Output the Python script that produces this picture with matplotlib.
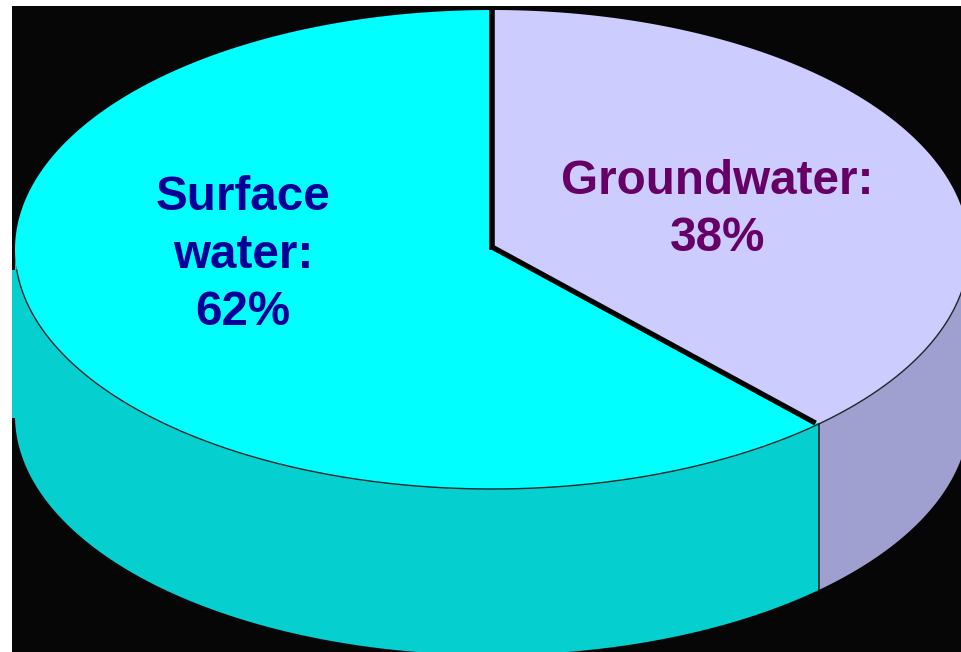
import numpy as np
import matplotlib.pyplot as plt
from matplotlib.patches import Rectangle

labels = ["Groundwater:\n38%", "Surface\nwater:\n62%"]
shares = [38, 62]
top_colors = ["#CCCCFF", "#00FFFF"]
side_colors = ["#A0A0D0", "#05CFCF"]
text_colors = ["#660066", "#000099"]
label_pos = [(717.5, 210), (243, 255)]

# pie geometry in pixels
cx, cy = 492, 249.5
rx, ry = 477, 239.5
depth = 166


def rim(a):
    # a is measured clockwise from 12 o'clock
    return cx + rx * np.sin(a), cy - ry * np.cos(a)


fig = plt.figure(figsize=(9.61, 6.52), dpi=100, facecolor="white")
ax = fig.add_axes([0, 0, 1, 1])
ax.set_xlim(0, 961)
ax.set_ylim(652, 0)
ax.axis("off")

bg = Rectangle((12, 6), 949, 646, facecolor="#060606", edgecolor="none", zorder=0)
ax.add_patch(bg)

edges = np.cumsum([0] + shares) / sum(shares) * 2 * np.pi

for i in range(len(shares)):
    a = np.linspace(edges[i], edges[i + 1], 300)
    x, y = rim(a)

    # side wall, only the front half of the rim shows
    front = np.cos(a) <= 0
    sx, sy = x[front], y[front]
    wall = ax.fill(np.r_[sx, sx[::-1]], np.r_[sy, sy[::-1] + depth],
                   color=side_colors[i], lw=0, zorder=1)
    wall[0].set_clip_path(bg)

    top = ax.fill(np.r_[cx, x], np.r_[cy, y], color=top_colors[i], lw=0, zorder=2)
    top[0].set_clip_path(bg)

    ax.text(label_pos[i][0], label_pos[i][1], labels[i], color=text_colors[i],
            family="Liberation Sans", fontweight="bold", fontsize=34.3,
            ha="center", va="center", linespacing=1.36, zorder=5)

# little strip of side colour left of the pie
ax.add_patch(Rectangle((12, 270), 4, 148, facecolor=side_colors[1], edgecolor="none", zorder=1))

# thin line where the top meets the side
a = np.linspace(np.pi / 2, 3 * np.pi / 2 - 0.086, 400)
x, y = rim(a)
line = ax.plot(x, y, color="#1c2a2a", lw=1.0, zorder=3)
line[0].set_clip_path(bg)

# slice separators
bx, by = rim(edges[1])
ax.plot([cx, cx], [cy - ry - 3, cy], color="black", lw=4.0, solid_capstyle="butt", zorder=4)
ax.plot([cx, bx - 3], [cy - 2.5, by - 1], color="black", lw=3.8, solid_capstyle="butt", zorder=4)
ax.plot([bx, bx], [by, by + depth], color="#222a2a", lw=1.2, zorder=3)

fig.savefig("out.png", dpi=100, facecolor="white")
